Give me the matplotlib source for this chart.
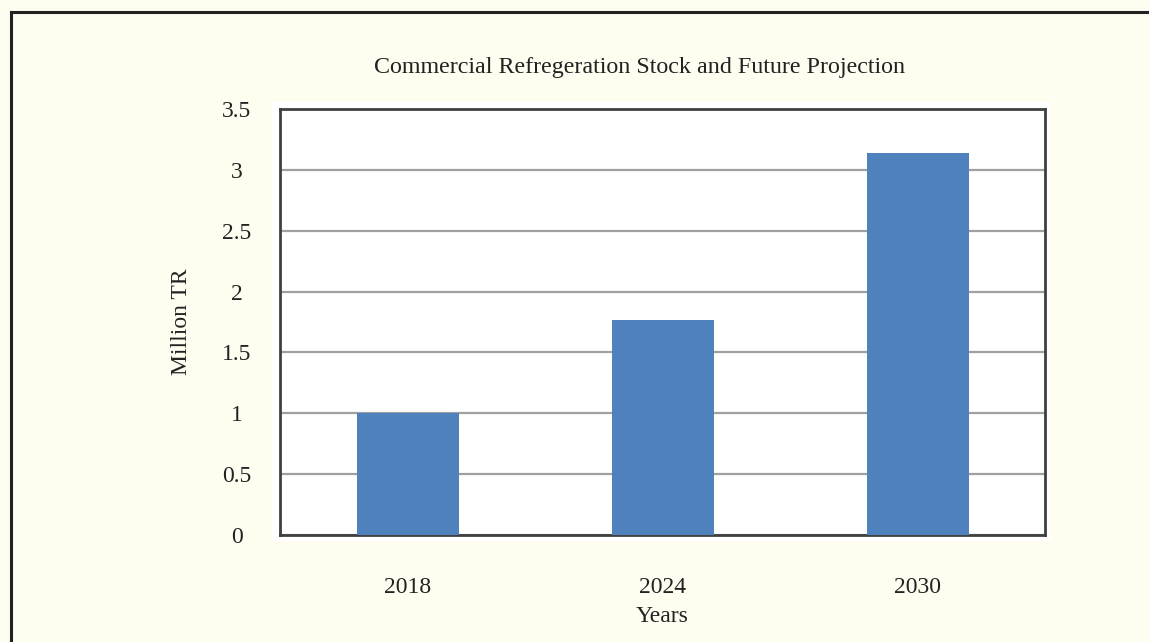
import numpy as np
import matplotlib.pyplot as plt
from matplotlib.patches import Rectangle

# dados do grafico
anos = ['2018', '2024', '2030']
estoque = [1.0, 1.77, 3.14]
yticks = [0, 0.5, 1, 1.5, 2, 2.5, 3, 3.5]
ytick_labels = ['0', '0.5', '1', '1.5', '2', '2.5', '3', '3.5']

plt.rcParams['font.family'] = ['Liberation Serif', 'DejaVu Serif']

W, H = 1149, 642
fig = plt.figure(figsize=(W / 100, H / 100), dpi=100)
fig.patch.set_facecolor('#fffdf0')

# moldura (apenas topo e esquerda visiveis)
fig.add_artist(plt.Line2D([11 / W, 11 / W], [0, 1 - 12 / H], color='#222222', lw=2.2,
                          transform=fig.transFigure))
fig.add_artist(plt.Line2D([11 / W, 1], [1 - 12 / H, 1 - 12 / H], color='#222222', lw=2.2,
                          transform=fig.transFigure))

# fundo branco atras da area do grafico
fig.add_artist(Rectangle((272 / W, 1 - 541 / H), (1051 - 272) / W, (541 - 102) / H,
                         transform=fig.transFigure, facecolor='white', edgecolor='none', zorder=0))

ax = fig.add_axes([280 / W, 1 - 535 / H, (1045 - 280) / W, (535 - 109) / H])
ax.set_facecolor('white')

x = np.arange(len(anos))
ax.bar(x, estoque, width=0.4, color='#4f81bd', zorder=3)

ax.set_xlim(-0.5, 2.5)
ax.set_ylim(0, 3.5)
ax.set_yticks(yticks)
ax.set_yticklabels(ytick_labels, ha='center')
ax.set_xticks(x)
ax.set_xticklabels(anos)
ax.tick_params(axis='both', length=0, labelsize=17, colors='#222222')
ax.tick_params(axis='y', pad=31)
ax.tick_params(axis='x', pad=30)

ax.yaxis.grid(True, color='#a0a0a0', lw=1.6, zorder=1)
ax.set_axisbelow(True)
for s in ax.spines.values():
    s.set_color('#404040')
    s.set_linewidth(2)

ax.set_xlabel('Years', fontsize=17, color='#222222', labelpad=6)
ax.set_ylabel('Million TR', fontsize=17, color='#222222', labelpad=22)

fig.text(640 / W, 1 - 68 / H, 'Commercial Refregeration Stock and Future Projection',
         ha='center', va='center', fontsize=17.3, color='#222222')

fig.savefig('out.png', dpi=100, facecolor=fig.get_facecolor())
